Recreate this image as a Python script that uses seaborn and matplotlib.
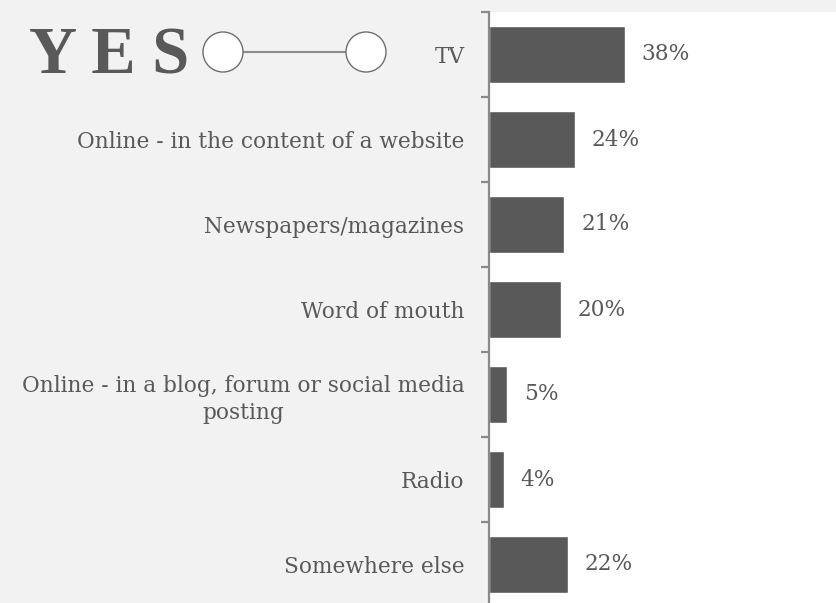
import matplotlib
matplotlib.use("Agg")
import matplotlib.pyplot as plt
from matplotlib.patches import Circle
from matplotlib.lines import Line2D
import seaborn as sns
import pandas as pd

categories = [
    "TV",
    "Online - in the content of a website",
    "Newspapers/magazines",
    "Word of mouth",
    "Online - in a blog, forum or social media\nposting",
    "Radio",
    "Somewhere else",
]
values = [38, 24, 21, 20, 5, 4, 22]
value_labels = [f"{v}%" for v in values]

TEXT = "#595959"
BAR = "#595959"
SPINE = "#8a8a8a"
PANEL = "#f2f2f2"
SERIF = ["DejaVu Serif"]

sns.set_theme(style="white")
plt.rcParams["font.family"] = SERIF

W, H, DPI = 837, 603, 100
fig = plt.figure(figsize=(W / DPI, H / DPI), dpi=DPI, facecolor=PANEL)

# axes in pixel terms: left edge 489.5, top 12, extends past the bottom edge
left_px, top_px, bottom_px = 489.5, 12, 607
ax = fig.add_axes([left_px / W, (H - bottom_px) / H,
                   (W - left_px) / W, (bottom_px - top_px) / H])
ax.set_facecolor("white")

df = pd.DataFrame({"category": categories, "value": values})
sns.barplot(data=df, x="value", y="category", orient="h", color=BAR,
            saturation=1, width=0.66, ax=ax)

ax.set_xlim(0, (W - left_px) / 3.57)
ax.set_ylim(len(categories) - 0.5, -0.5)
ax.set_xlabel("")
ax.set_ylabel("")
ax.set_xticks([])

for s in ["top", "right", "bottom"]:
    ax.spines[s].set_visible(False)
ax.spines["left"].set_color(SPINE)
ax.spines["left"].set_linewidth(1.6)

# category labels on major ticks (no tick mark), boundary ticks as minor
ax.set_yticks(range(len(categories)))
ax.set_yticklabels(categories)
ax.tick_params(axis="y", which="major", length=0, pad=18,
               labelsize=15.6, labelcolor=TEXT)
ax.set_yticks([i - 0.5 for i in range(len(categories) + 1)], minor=True)
ax.tick_params(axis="y", which="minor", length=6, width=1.6,
               color=SPINE, left=True)
for lab in ax.get_yticklabels():
    lab.set_multialignment("center")
    lab.set_linespacing(1.3)

ax.bar_label(ax.containers[0], labels=value_labels, padding=12,
             fontsize=15.6, color=TEXT)

# header mark: YES with a two-node connector
fig.text(29 / W, 1 - 74 / H, "Y E S", fontsize=48, fontweight="bold",
         family=["Liberation Serif"], color=TEXT, ha="left", va="baseline")
cy = (H - 52) / DPI
fig.add_artist(Line2D([243 / DPI, 346 / DPI], [cy, cy], color="#8c8c8c",
                      lw=1.5, transform=fig.dpi_scale_trans))
for cx in (223, 366):
    fig.add_artist(Circle((cx / DPI, cy), 0.20, facecolor="white",
                          edgecolor="#6e6e6e", lw=1.0,
                          transform=fig.dpi_scale_trans, zorder=3))

fig.savefig("out.png", dpi=DPI, facecolor=PANEL)
